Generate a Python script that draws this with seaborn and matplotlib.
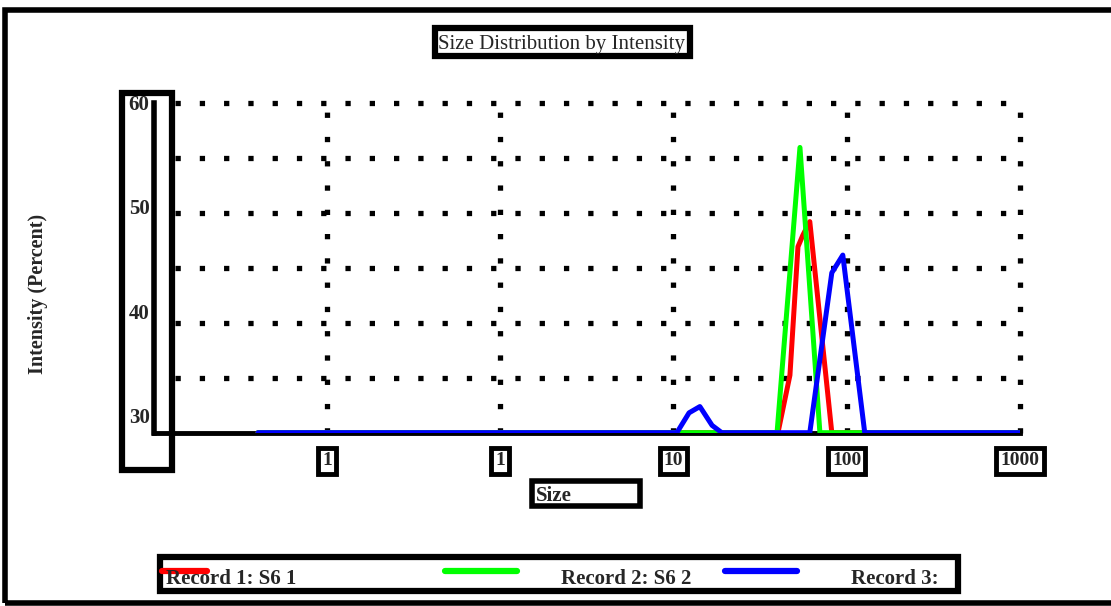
import numpy as np
import matplotlib
matplotlib.use("Agg")
import matplotlib.pyplot as plt
import seaborn as sns
from matplotlib.patches import Rectangle
from matplotlib.lines import Line2D

# ---- data ----
series_names = ["Record 1: S6 1", "Record 2: S6 2", "Record 3:"]
series_colors = ["#ff0000", "#00ff00", "#0000ff"]

rec1_size = [0.04, 40.1, 47.0, 52.3, 55.8, 61.2, 82.0, 1000]
rec1_int = [28.4, 28.4, 33.9, 46.2, 47.3, 48.6, 28.4, 28.4]

rec2_size = [0.04, 39.6, 53.7, 70.0, 1000]
rec2_int = [28.4, 28.4, 55.7, 28.4, 28.4]

rec3_size = [0.04, 10.46, 12.3, 14.2, 16.7, 19.0, 61.2, 82.0, 94.9, 127, 1000]
rec3_int = [28.4, 28.4, 30.3, 30.9, 29.1, 28.4, 28.4, 43.7, 45.4, 28.4, 28.4]

x_ticks = [0.1, 1, 10, 100, 1000]
x_tick_labels = ["1", "1", "10", "100", "1000"]
y_ticks = [30, 40, 50, 60]

W, H = 1111, 606


def fx(px):
    return px / W


def fy(py):
    return 1 - py / H


sns.set_style("white")
plt.rcParams['font.family'] = ['Liberation Serif', 'DejaVu Serif']

fig = plt.figure(figsize=(W / 100, H / 100), dpi=100)
ax = fig.add_axes([fx(153.7), fy(433), fx(1020) - fx(153.7), fy(102.5) - fy(433)])
ax.set_xscale('log')

data = [(rec1_size, rec1_int), (rec2_size, rec2_int), (rec3_size, rec3_int)]
for (xs, ys), name, col in zip(data, series_names, series_colors):
    sns.lineplot(x=xs, y=ys, ax=ax, color=col, lw=3.6, estimator=None,
                 sort=False, label=name, legend=False, zorder=5)

ax.set_xlim(0.01, 1000)
ax.set_ylim(28.37, 60)

# grid: square dots
dot = dict(color='black', lw=3.8, linestyle=(0, (1, 3.6)), dash_capstyle='butt', zorder=1)
for gy in np.linspace(28.37, 60, 7)[1:]:
    ax.axhline(gy, xmin=0.025, clip_on=False, **dot)
for gx in x_ticks:
    ax.axvline(gx, clip_on=False, **dot)

for s in ['top', 'right']:
    ax.spines[s].set_visible(False)
ax.spines['left'].set_linewidth(4)
ax.spines['bottom'].set_linewidth(3.5)
ax.spines['left'].set_color('black')
ax.spines['bottom'].set_color('black')

ax.set_xticks(x_ticks)
ax.set_xticklabels(x_tick_labels)
ax.xaxis.set_minor_locator(matplotlib.ticker.NullLocator())
ax.set_yticks(y_ticks)
ax.set_yticklabels([str(v) for v in y_ticks])
ax.tick_params(axis='x', length=4, width=2, pad=10, labelsize=14)
ax.tick_params(axis='y', length=0, pad=3, labelsize=15)
for t in ax.get_yticklabels():
    t.set_fontweight('bold')
for t in ax.get_xticklabels():
    t.set_fontweight('bold')
    t.set_bbox(dict(facecolor='white', edgecolor='black', lw=3.5, pad=3))

# box around y tick labels
fig.patches.append(Rectangle((fx(122), fy(470)), fx(172) - fx(122), fy(93) - fy(470),
                             transform=fig.transFigure, fill=False, ec='black', lw=4.5))

# y label
fig.text(fx(38), fy(294), "Intensity (Percent)", rotation=90, ha='center', va='center',
         fontsize=14.5, fontweight='bold')

# title box
fig.patches.append(Rectangle((fx(435), fy(56)), fx(690) - fx(435), fy(28) - fy(56),
                             transform=fig.transFigure, fc='white', ec='black', lw=4.5))
fig.text(fx(562), fy(45), "Size Distribution by Intensity", ha='center', va='center',
         fontsize=15)

# x label box
fig.patches.append(Rectangle((fx(532), fy(506)), fx(640) - fx(532), fy(481) - fy(506),
                             transform=fig.transFigure, fc='white', ec='black', lw=4))
fig.text(fx(536), fy(496), "Size", ha='left', va='center', fontsize=15, fontweight='bold')

# legend
fig.patches.append(Rectangle((fx(160), fy(591)), fx(958) - fx(160), fy(557) - fy(591),
                             transform=fig.transFigure, fc='white', ec='black', lw=4.5))
handle_x = [(162, 207), (445, 517), (725, 797)]
text_x = [166, 561, 851]
for (x0, x1), tx, name, col in zip(handle_x, text_x, series_names, series_colors):
    fig.lines.append(Line2D([fx(x0), fx(x1)], [fy(571), fy(571)], transform=fig.transFigure,
                            color=col, lw=4.5))
    fig.text(fx(tx), fy(579), name, ha='left', va='center', fontsize=15, fontweight='bold')

# outer frame
fig.patches.append(Rectangle((fx(5), fy(603)), fx(1120) - fx(5), fy(10) - fy(603),
                             transform=fig.transFigure, fill=False, ec='black', lw=4))

fig.savefig("out.png", dpi=100)
